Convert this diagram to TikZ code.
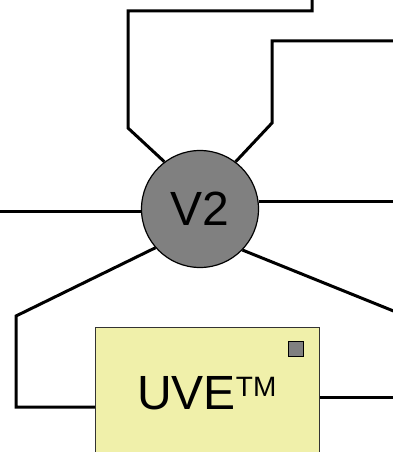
\documentclass[tikz,border=0pt]{standalone}
\usepackage{fontspec}
\setmainfont{Liberation Sans}
\definecolor{boxfill}{HTML}{F0F0AA}
\definecolor{nodegray}{HTML}{808080}
\begin{document}
\begin{tikzpicture}[x=1pt,y=-1pt,
  wire/.style={line width=3pt,line join=miter},
  hub/.style={circle,draw=black,line width=1.2pt,fill=nodegray,minimum size=117pt,inner sep=0pt},
  unit/.style={rectangle,draw=black!80,line width=1.2pt,fill=boxfill,minimum width=224pt,minimum height=140pt,inner sep=0pt,anchor=north west},
  marker/.style={rectangle,draw=black,line width=0.8pt,fill=nodegray,minimum size=15pt,inner sep=0pt}]
\useasboundingbox (0,0) rectangle (393,452);
\clip (0,0) rectangle (393,452);
% free ends and bends
\coordinate (tlA) at (128,128);
\coordinate (tlB) at (128,11);
\coordinate (tlC) at (312,11);
\coordinate (tlEnd) at (312,-3);
\coordinate (trA) at (272,123);
\coordinate (trB) at (272,41);
\coordinate (trEnd) at (396,41);
\coordinate (lEnd) at (-3,211);
\coordinate (rEnd) at (396,202);
\coordinate (llA) at (16,316);
\coordinate (llB) at (16,407);
\coordinate (lrEnd) at (396,312);
\coordinate (bEnd) at (396,397);
% nodes
\node[hub] (v2) at (200,209) {};
\node (v2t) at (200,209) {\fontsize{48}{48}\selectfont V2};
\node[unit] (uve) at (95,327) {};
\node[marker] (mk) at (296,349) {};
\node[anchor=base west,inner sep=0pt] (uvet) at (137,409) {\fontsize{48}{48}\selectfont UVE\raisebox{13pt}{\fontsize{28}{28}\selectfont TM}};
% connectors
\draw[wire] (v2.127) -- (tlA) -- (tlB) -- (tlC) -- (tlEnd);
\draw[wire] (v2.53) -- (trA) -- (trB) -- (trEnd);
\draw[wire] (v2.west |- lEnd) -- (lEnd);
\draw[wire] (v2.7) -- (v2.7 -| rEnd);
\draw[wire] (v2.221) -- (llA) -- (llB) -- (llB -| uve.west);
\draw[wire] (v2.316) -- (lrEnd);
\draw[wire] (uve.east |- bEnd) -- (bEnd);
\end{tikzpicture}
\end{document}
